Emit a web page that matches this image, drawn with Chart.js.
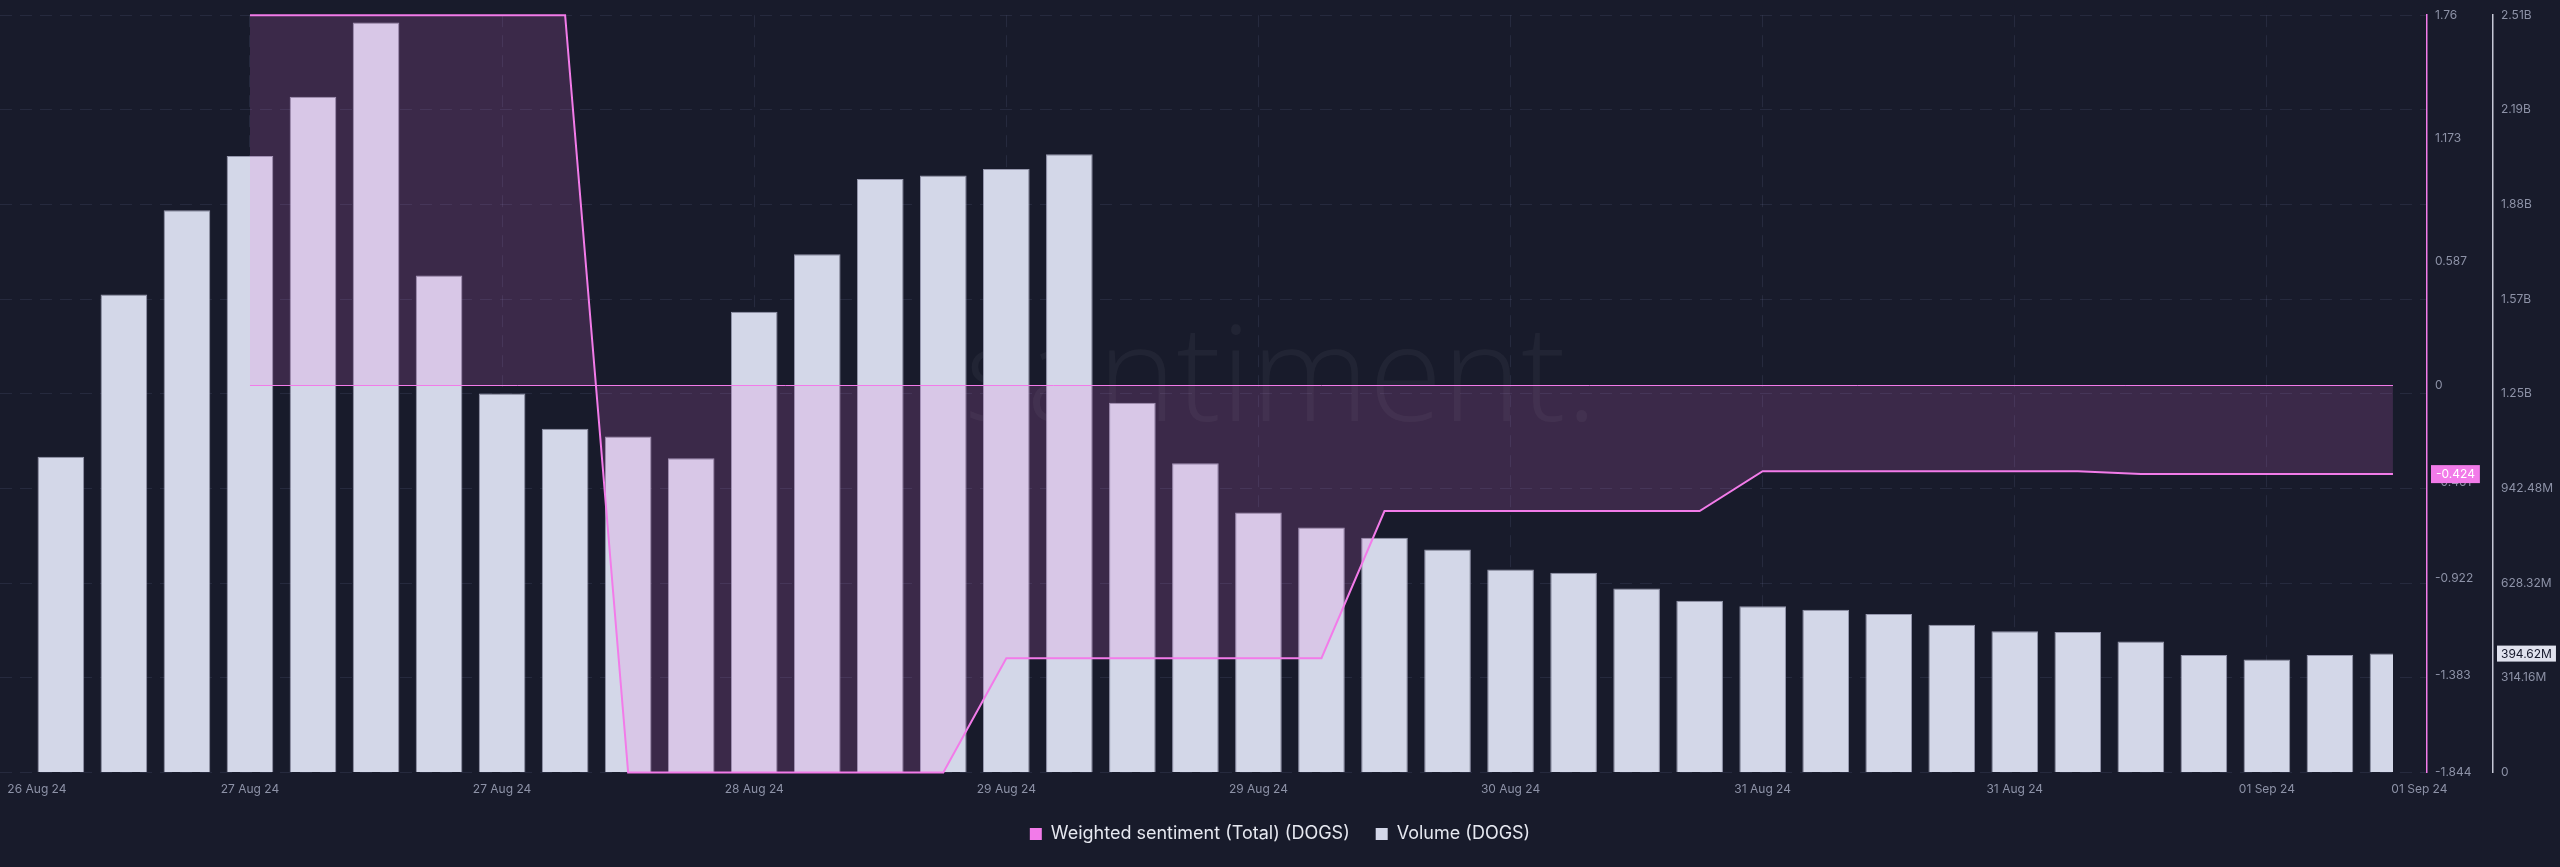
<!DOCTYPE html>
<html>
<head>
<meta charset="utf-8">
<script src="https://cdn.jsdelivr.net/npm/chart.js@4.4.1/dist/chart.umd.min.js"></script>
<style>
  html, body { margin: 0; padding: 0; background: #181b2b; }
  #wrap { width: 2560px; height: 867px; position: relative; }
</style>
</head>
<body>
<div id="wrap"><canvas id="c"></canvas></div>
<script>
// ---- data (volume in millions of DOGS) ----
const volume = [1048, 1586, 1866, 2046, 2243, 2489, 1649, 1258, 1141, 1115,
                1043, 1529, 1720, 1970, 1981, 2003, 2052, 1227, 1026, 863,
                813, 779, 740, 674, 663, 611, 570, 552, 540, 526,
                490, 469, 466, 435, 390, 375, 390, 394.62];
const sentiment = [null, null, null, 1.76, 1.76, 1.76, 1.76, 1.76, 1.76, -1.844,
                   -1.844, -1.844, -1.844, -1.844, -1.844, -1.30, -1.30, -1.30, -1.30, -1.30,
                   -1.30, -0.60, -0.60, -0.60, -0.60, -0.60, -0.60, -0.41, -0.41, -0.41,
                   -0.41, -0.41, -0.41, -0.424, -0.424, -0.424, -0.424, -0.424];
const xTickIndex = [-0.38, 3, 7, 11, 15, 19, 23, 27, 31, 35, 37.42];
const xTickLabels = ['26 Aug 24', '27 Aug 24', '27 Aug 24', '28 Aug 24', '29 Aug 24', '29 Aug 24',
                     '30 Aug 24', '31 Aug 24', '31 Aug 24', '01 Sep 24', '01 Sep 24'];
const sentTicks = [1.76, 1.173, 0.587, 0, -0.461, -0.922, -1.383, -1.844];
const sentTickLabels = ['1.76', '1.173', '0.587', '0', '-0.461', '-0.922', '-1.383', '-1.844'];
const volTicks = [0, 314.16, 628.32, 942.48, 1256.64, 1570.8, 1884.96, 2199.12, 2513.28];
const volTickLabels = ['0', '314.16M', '628.32M', '942.48M', '1.25B', '1.57B', '1.88B', '2.19B', '2.51B'];
const seriesNames = ['Weighted sentiment (Total) (DOGS)', 'Volume (DOGS)'];
const lastSentLabel = '-0.424';
const lastVolLabel = '394.62M';

const PINK = '#f27be9';
const BAR = '#d3d7e8';
const TICK = '#8d92a7';
const GRID = 'rgba(140,150,190,0.13)';

const bgPlugin = {
  id: 'bg',
  beforeDraw(chart) {
    const ctx = chart.ctx;
    ctx.save();
    ctx.fillStyle = '#181b2b';
    ctx.fillRect(0, 0, chart.width, chart.height);
    ctx.restore();
  }
};

const watermark = {
  id: 'watermark',
  beforeDatasetsDraw(chart) {
    const ctx = chart.ctx;
    ctx.save();
    ctx.font = '300 100px "Open Sans"';
    const w100 = ctx.measureText('santiment.').width;
    const size = 100 * 633 / w100;
    ctx.font = '300 ' + size + 'px "Open Sans"';
    ctx.textAlign = 'center';
    ctx.textBaseline = 'alphabetic';
    ctx.fillStyle = 'rgba(255,255,255,0.045)';
    ctx.fillText('santiment.', 1281, 421);
    ctx.restore();
  }
};

const extras = {
  id: 'extras',
  afterDatasetsDraw(chart) {
    const ctx = chart.ctx;
    const meta = chart.getDatasetMeta(0);
    const ys = chart.scales.ySent;
    const pts = meta.data.filter((p, i) => sentiment[i] !== null);
    if (!pts.length) return;
    const y0 = Math.round(ys.getPixelForValue(0)) + 0.5;
    ctx.save();
    ctx.strokeStyle = PINK;
    ctx.lineWidth = 1;
    ctx.beginPath();
    ctx.moveTo(pts[0].x, y0);
    ctx.lineTo(pts[pts.length - 1].x, y0);
    ctx.stroke();
    ctx.restore();
  },
  afterDraw(chart) {
    const ctx = chart.ctx;
    const ys = chart.scales.ySent, yv = chart.scales.yVol;
    ctx.save();
    ctx.font = '12px Inter';
    ctx.textBaseline = 'middle';
    ctx.textAlign = 'left';
    let lastS = null;
    for (let i = sentiment.length - 1; i >= 0; i--) { if (sentiment[i] !== null) { lastS = sentiment[i]; break; } }
    let y = ys.getPixelForValue(lastS);
    let tw = ctx.measureText(lastSentLabel).width;
    let x = ys.left + 4;
    ctx.fillStyle = PINK;
    ctx.fillRect(x, y - 9, tw + 10, 18);
    ctx.fillStyle = '#ffffff';
    ctx.fillText(lastSentLabel, x + 5, y + 0.5);
    y = yv.getPixelForValue(volume[volume.length - 1]);
    tw = ctx.measureText(lastVolLabel).width;
    x = yv.left + 4;
    ctx.fillStyle = '#e0e2ee';
    ctx.fillRect(x, y - 8, tw + 8, 16);
    ctx.fillStyle = '#14172a';
    ctx.fillText(lastVolLabel, x + 4, y + 0.5);
    ctx.restore();
  }
};

const ctx = document.getElementById('c');
new Chart(ctx, {
  data: {
    datasets: [
      {
        type: 'line',
        label: seriesNames[0],
        legendColor: PINK,
        data: sentiment.map((v, i) => ({ x: i, y: v })),
        xAxisID: 'x',
        yAxisID: 'ySent',
        borderColor: PINK,
        borderWidth: 2,
        pointRadius: 0,
        tension: 0,
        fill: { value: 0 },
        backgroundColor: 'rgba(243,121,232,0.16)',
        clip: { left: 0, top: 4, right: -34, bottom: 4 }
      },
      {
        type: 'bar',
        label: seriesNames[1],
        legendColor: BAR,
        data: volume.map((v, i) => ({ x: i, y: v })),
        xAxisID: 'x',
        yAxisID: 'yVol',
        backgroundColor: BAR,
        borderColor: '#9597ad',
        borderWidth: 1,
        barPercentage: 0.74,
        categoryPercentage: 1.0,
        clip: { left: 5, top: 0, right: -34, bottom: 0 }
      }
    ]
  },
  options: {
    responsive: true,
    maintainAspectRatio: false,
    devicePixelRatio: 1,
    animation: false,
    layout: { padding: { top: 9, left: 0, right: 0, bottom: 14 } },
    plugins: {
      tooltip: { enabled: false },
      legend: {
        position: 'bottom',
        labels: {
          color: '#e6e8f0',
          font: { family: 'Inter', size: 18 },
          boxWidth: 12,
          boxHeight: 12,
          padding: 26,
          generateLabels: (chart) => chart.data.datasets.map((d, i) => ({
            text: d.label, fillStyle: d.legendColor, strokeStyle: d.legendColor,
            lineWidth: 0, datasetIndex: i, hidden: false, fontColor: '#e6e8f0'
          }))
        }
      }
    },
    scales: {
      x: {
        type: 'linear',
        offset: false,
        min: -0.966,
        max: 37.54,
        afterBuildTicks: (s) => { s.ticks = xTickIndex.map(v => ({ value: v })); },
        afterFit: (s) => { s.height = 26.5; s.paddingLeft = 0; s.paddingRight = 0; },
        ticks: {
          autoSkip: false,
          maxRotation: 0,
          padding: 10,
          color: TICK,
          font: { family: 'Inter', size: 12 },
          callback: (v, i) => xTickLabels[i]
        },
        grid: {
          offset: false,
          drawTicks: false,
          color: (c) => (c.index === 0 || c.index === xTickIndex.length - 1) ? 'rgba(0,0,0,0)' : GRID,
          lineWidth: 1
        },
        border: { display: false, dash: [12, 8] }
      },
      ySent: {
        type: 'linear',
        position: 'right',
        weight: 0,
        min: -1.844,
        max: 1.76,
        afterBuildTicks: (s) => { s.ticks = sentTicks.map(v => ({ value: v })); },
        afterFit: (s) => { s.width = 66; },
        ticks: {
          autoSkip: false,
          padding: 8,
          color: TICK,
          font: { family: 'Inter', size: 12 },
          callback: (v, i) => sentTickLabels[i]
        },
        grid: { display: false, drawTicks: false },
        border: { display: true, color: PINK, width: 1.5 }
      },
      yVol: {
        type: 'linear',
        position: 'right',
        weight: 1,
        min: 0,
        max: 2513.28,
        afterBuildTicks: (s) => { s.ticks = volTicks.map(v => ({ value: v })); },
        afterFit: (s) => { s.width = 67; },
        ticks: {
          autoSkip: false,
          padding: 8,
          color: TICK,
          font: { family: 'Inter', size: 12 },
          callback: (v, i) => volTickLabels[i]
        },
        grid: { drawTicks: false, color: GRID, lineWidth: 1 },
        border: { display: true, color: '#c5c8d6', width: 1.5, dash: [12, 8] }
      }
    }
  },
  plugins: [bgPlugin, watermark, extras]
});
</script>
</body>
</html>
